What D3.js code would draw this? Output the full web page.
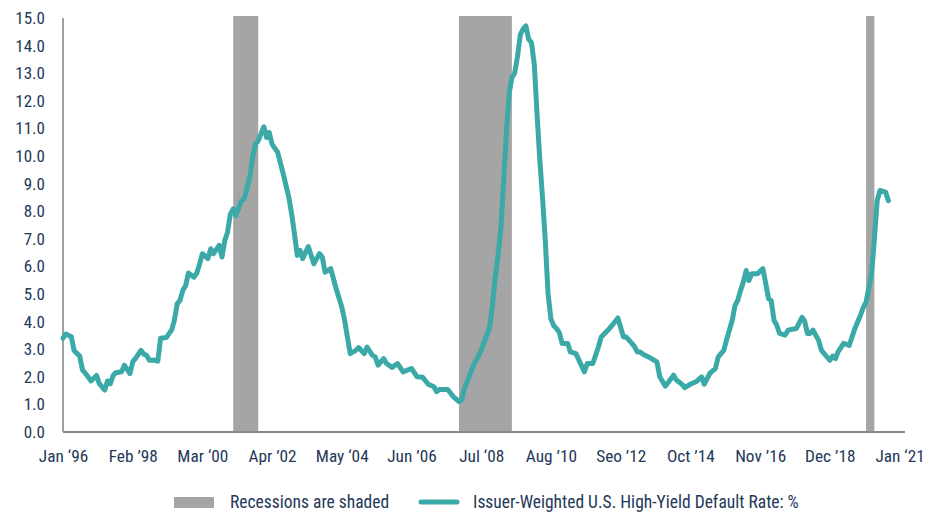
<!DOCTYPE html>
<html>
<head>
<meta charset="utf-8">
<script src="https://cdn.jsdelivr.net/npm/d3@7"></script>
<style>
  body { margin: 0; background: #fff; }
  svg text { font-family: Roboto, "Noto Sans", sans-serif; font-stretch: condensed; fill: #243858; }
</style>
</head>
<body>
<svg width="934" height="512"></svg>
<script>
// monthly readings, issuer-weighted US high-yield default rate (%)
var months = [
  "1996-01","1996-02","1996-04","1996-05","1996-06","1996-07","1996-08","1996-10","1996-11",
  "1997-01","1997-02","1997-04","1997-05","1997-06","1997-07","1997-08","1997-10","1997-11",
  "1998-01","1998-02","1998-03","1998-05","1998-06","1998-07","1998-08","1998-10","1998-11","1998-12",
  "1999-02","1999-04","1999-05","1999-06","1999-07","1999-08","1999-09","1999-10","1999-12",
  "2000-01","2000-02","2000-03","2000-05","2000-06","2000-07","2000-09","2000-10","2000-11","2000-12",
  "2001-01","2001-02","2001-03","2001-05","2001-06","2001-08","2001-09","2001-10","2001-11","2001-12",
  "2002-01","2002-02","2002-03","2002-04","2002-06","2002-08","2002-10","2002-11","2002-12",
  "2003-01","2003-02","2003-03","2003-05","2003-07","2003-09","2003-10","2003-11",
  "2004-01","2004-03","2004-05","2004-06","2004-08","2004-10","2004-11",
  "2005-01","2005-02","2005-04","2005-05","2005-06","2005-08","2005-09","2005-11",
  "2006-01","2006-03","2006-06","2006-08","2006-10","2006-12",
  "2007-02","2007-03","2007-04","2007-07","2007-09","2007-11","2007-12",
  "2008-01","2008-04","2008-07","2008-10","2008-11","2008-12",
  "2009-01","2009-02","2009-03","2009-04","2009-05","2009-06","2009-07","2009-08","2009-09","2009-10","2009-11","2009-12",
  "2010-01","2010-02","2010-03","2010-04","2010-05","2010-06","2010-07","2010-08","2010-09","2010-10","2010-11","2010-12",
  "2011-02","2011-03","2011-05","2011-08","2011-09","2011-11",
  "2012-01","2012-02","2012-05","2012-06","2012-08","2012-10","2012-11",
  "2013-01","2013-02","2013-03","2013-04","2013-05","2013-07","2013-10","2013-11",
  "2014-01","2014-04","2014-05","2014-07","2014-08","2014-10","2014-12",
  "2015-02","2015-03","2015-05","2015-07","2015-08","2015-10","2015-11",
  "2016-01","2016-02","2016-03","2016-04","2016-05","2016-06","2016-07","2016-08","2016-10","2016-12",
  "2017-02","2017-03","2017-04","2017-05","2017-06","2017-08","2017-09","2017-12",
  "2018-02","2018-03","2018-04","2018-05","2018-06","2018-08","2018-09","2018-12",
  "2019-01","2019-02","2019-03","2019-05","2019-07","2019-09","2019-11","2019-12",
  "2020-01","2020-03","2020-04","2020-05","2020-06","2020-08","2020-09"
];
var defaultRate = [
  3.40,3.55,3.45,2.95,2.85,2.75,2.25,2.00,1.85,
  2.05,1.75,1.52,1.85,1.75,2.05,2.15,2.18,2.42,
  2.12,2.55,2.66,2.96,2.82,2.78,2.60,2.60,2.57,3.40,
  3.42,3.70,4.05,4.65,4.77,5.13,5.31,5.76,5.61,
  5.76,6.10,6.46,6.28,6.64,6.46,6.76,6.34,6.94,7.24,
  7.90,8.08,7.84,8.38,8.45,9.23,9.95,10.43,10.55,10.80,
  11.06,10.67,10.85,10.43,10.13,9.35,8.50,7.90,7.20,
  6.40,6.58,6.28,6.72,6.10,6.46,6.34,5.79,
  5.92,5.19,4.53,4.05,2.84,2.96,3.06,
  2.84,3.08,2.78,2.72,2.42,2.66,2.48,2.34,
  2.48,2.18,2.30,2.00,1.98,1.73,
  1.64,1.46,1.54,1.54,1.28,1.10,1.16,
  1.58,2.36,2.96,3.81,4.60,5.60,
  6.40,7.40,9.00,10.80,12.24,12.84,13.00,13.60,14.40,14.60,14.71,14.23,
  14.11,13.30,11.60,9.90,8.50,6.90,5.00,4.10,3.85,3.75,3.60,3.21,
  3.21,2.90,2.84,2.18,2.48,2.48,
  3.08,3.44,3.75,3.87,4.13,3.44,3.44,
  3.21,3.08,2.90,2.90,2.82,2.72,2.54,2.00,
  1.66,2.06,1.88,1.73,1.61,1.73,1.82,
  2.00,1.73,2.12,2.30,2.72,2.96,3.35,
  4.05,4.59,4.77,5.13,5.43,5.85,5.49,5.73,5.73,5.92,
  4.83,4.77,4.05,3.87,3.57,3.51,3.69,3.75,
  4.15,4.02,3.57,3.57,3.69,3.32,2.96,2.60,
  2.75,2.66,2.90,3.21,3.14,3.75,4.23,4.51,
  4.71,5.73,7.00,8.38,8.75,8.69,8.38
];

// recessions: first and last shaded month
var recessionStart = ["2001-02","2007-11","2020-01"];
var recessionEnd = ["2001-10","2009-05","2020-03"];

var tickMonths = ["1996-01","1998-02","2000-03","2002-04","2004-05","2006-06","2008-07",
  "2010-08","2012-09","2014-10","2016-11","2018-12","2021-01"];
var tickLabels = ["Jan \u201896","Feb \u201998","Mar \u201800","Apr \u201902","May \u201804","Jun \u201906","Jul \u201808",
  "Aug \u201910","Seo \u201912","Oct \u201914","Nov \u201916","Dec \u201918","Jan \u201821"];
var yTicks = [0,1,2,3,4,5,6,7,8,9,10,11,12,13,14,15];

var parseMonth = d3.timeParse("%Y-%m");

var svg = d3.select("svg"),
	margin = {top: 18, right: 29, bottom: 80, left: 63},
	width = +svg.attr("width") - margin.left - margin.right,
	height = +svg.attr("height") - margin.top - margin.bottom;

var x = d3.scaleTime()
	.domain([parseMonth("1996-01"), parseMonth("2021-03")])
	.range([0, width]);
var y = d3.scaleLinear().domain([0, 15]).range([height, 0]);

var g = svg.append("g")
	.attr("transform", "translate(" + margin.left + "," + margin.top + ")");

var data = months.map(function(m, i) { return {date: parseMonth(m), value: defaultRate[i]}; });

// recession shading
g.selectAll(".recession")
	.data(recessionStart)
	.enter().append("rect")
	.attr("class", "recession")
	.attr("x", function(d) { return x(parseMonth(d)); })
	.attr("y", y(15) - 2)
	.attr("width", function(d, i) { return x(d3.timeMonth.offset(parseMonth(recessionEnd[i]), 1)) - x(parseMonth(d)); })
	.attr("height", height - y(15) + 2)
	.attr("fill", "#a5a5a5");

// axes
var xAxis = g.append("g")
	.attr("transform", "translate(0," + height + ")")
	.call(d3.axisBottom(x)
		.tickValues(tickMonths.map(parseMonth))
		.tickSize(0)
		.tickPadding(18)
		.tickFormat(function(d, i) { return tickLabels[i]; }));
xAxis.select(".domain").remove();
xAxis.selectAll("text").attr("font-size", 17.3).style("font-family", null);

var yAxis = g.append("g")
	.call(d3.axisLeft(y)
		.tickValues(yTicks)
		.tickSize(0)
		.tickPadding(18)
		.tickFormat(d3.format(".1f")));
yAxis.select(".domain").remove();
yAxis.selectAll("text").attr("font-size", 17).style("font-family", null);

g.append("line")
	.attr("x1", 0).attr("x2", 0)
	.attr("y1", y(15)).attr("y2", height)
	.attr("stroke", "#7f7f7f")
	.attr("stroke-width", 1.5);

g.append("line")
	.attr("x1", 0).attr("x2", width)
	.attr("y1", height).attr("y2", height)
	.attr("stroke", "#8a8a8a")
	.attr("stroke-width", 2);

// default rate line
var line = d3.line()
	.x(function(d) { return x(d.date); })
	.y(function(d) { return y(d.value); });

g.append("path")
	.datum(data)
	.attr("fill", "none")
	.attr("stroke", "#3aa9a7")
	.attr("stroke-width", 5)
	.attr("stroke-linejoin", "round")
	.attr("stroke-linecap", "round")
	.attr("d", line);

// legend
var legend = svg.append("g").attr("transform", "translate(0,502)");
legend.append("rect")
	.attr("x", 174).attr("y", -5)
	.attr("width", 40).attr("height", 11)
	.attr("fill", "#a5a5a5");
legend.append("text")
	.attr("x", 230).attr("dy", "0.35em")
	.attr("font-size", 17.5)
	.text("Recessions are shaded");
legend.append("line")
	.attr("x1", 421).attr("x2", 457)
	.attr("stroke", "#3aa9a7")
	.attr("stroke-width", 5)
	.attr("stroke-linecap", "round");
legend.append("text")
	.attr("x", 473).attr("dy", "0.35em")
	.attr("font-size", 17.5)
	.text("Issuer-Weighted U.S. High-Yield Default Rate: %");
</script>
</body>
</html>
